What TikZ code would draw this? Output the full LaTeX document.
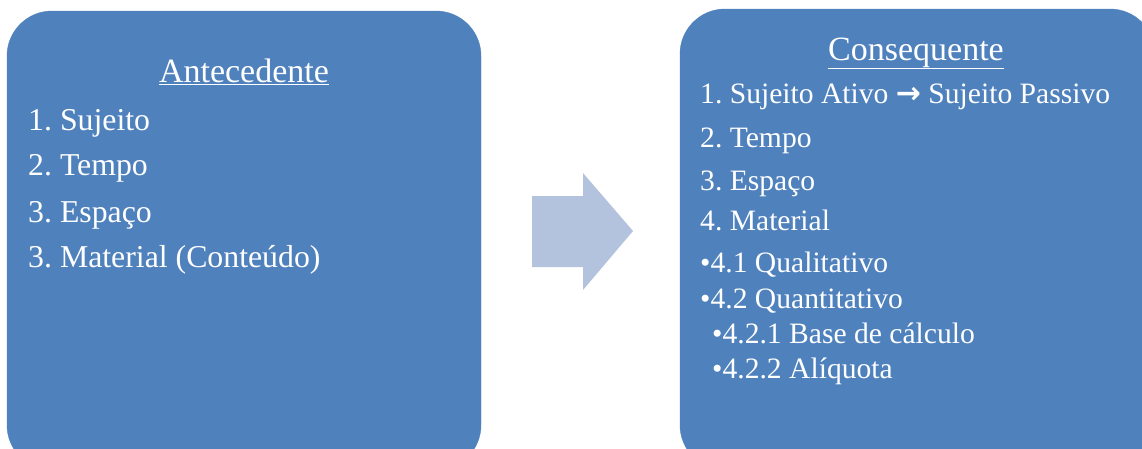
\documentclass[tikz,border=0pt]{standalone}
\usepackage{fontspec}
\setmainfont{Liberation Serif}
\newfontfamily\arrowfont{DejaVu Sans}
\frenchspacing
\definecolor{boxblue}{HTML}{4F81BD}
\definecolor{arrowblue}{HTML}{B3C3DD}
\tikzset{
  panel/.style={fill=boxblue, draw=boxblue, rounded corners=45pt},
  headtxt/.style={text=white, inner sep=0pt, anchor=base, font=\fontsize{34}{34}\selectfont},
  ltxt/.style={text=white, inner sep=0pt, anchor=base west, font=\fontsize{31.8}{32}\selectfont},
  rtxt/.style={text=white, inner sep=0pt, anchor=base west, font=\fontsize{29.6}{30}\selectfont},
  bigarrow/.style={fill=arrowblue, draw=none}
}
\begin{document}
\begin{tikzpicture}[x=1pt,y=-1pt]
\useasboundingbox (0,0) rectangle (1142,448);
\clip (0,0) rectangle (1142,448);
% panels
\path[panel] (7,11) rectangle (481,470);
\path[panel] (680,9) rectangle (1155,470);
% arrow
\path[bigarrow] (532,196) -- (583,196) -- (583,173) -- (633,231) -- (583,290) -- (583,267) -- (532,267) -- cycle;
% left text
\node[headtxt] (lh) at (244,82) {\underline{Antecedente}};
\node[ltxt] (l1) at (28,130) {1. Sujeito};
\node[ltxt] (l2) at (28,175) {2. Tempo};
\node[ltxt] (l3) at (28,222) {3. Espaço};
\node[ltxt] (l4) at (28,267) {3. Material (Conteúdo)};
% right text
\node[headtxt] (rh) at (916,60) {\underline{Consequente}};
\node[rtxt] (r1) at (700,103) {1. Sujeito Ativo {\arrowfont\bfseries\fontsize{30}{30}\selectfont →} Sujeito Passivo};
\node[rtxt] (r2) at (700,147) {2. Tempo};
\node[rtxt] (r3) at (700,190) {3. Espaço};
\node[rtxt] (r4) at (700,230) {4. Material};
\node[rtxt] (r5) at (700,272) {•4.1 Qualitativo};
\node[rtxt] (r6) at (700,308) {•4.2 Quantitativo};
\node[rtxt] (r7) at (712,343) {•4.2.1 Base de cálculo};
\node[rtxt] (r8) at (712,378) {•4.2.2 Alíquota};
\end{tikzpicture}
\end{document}
